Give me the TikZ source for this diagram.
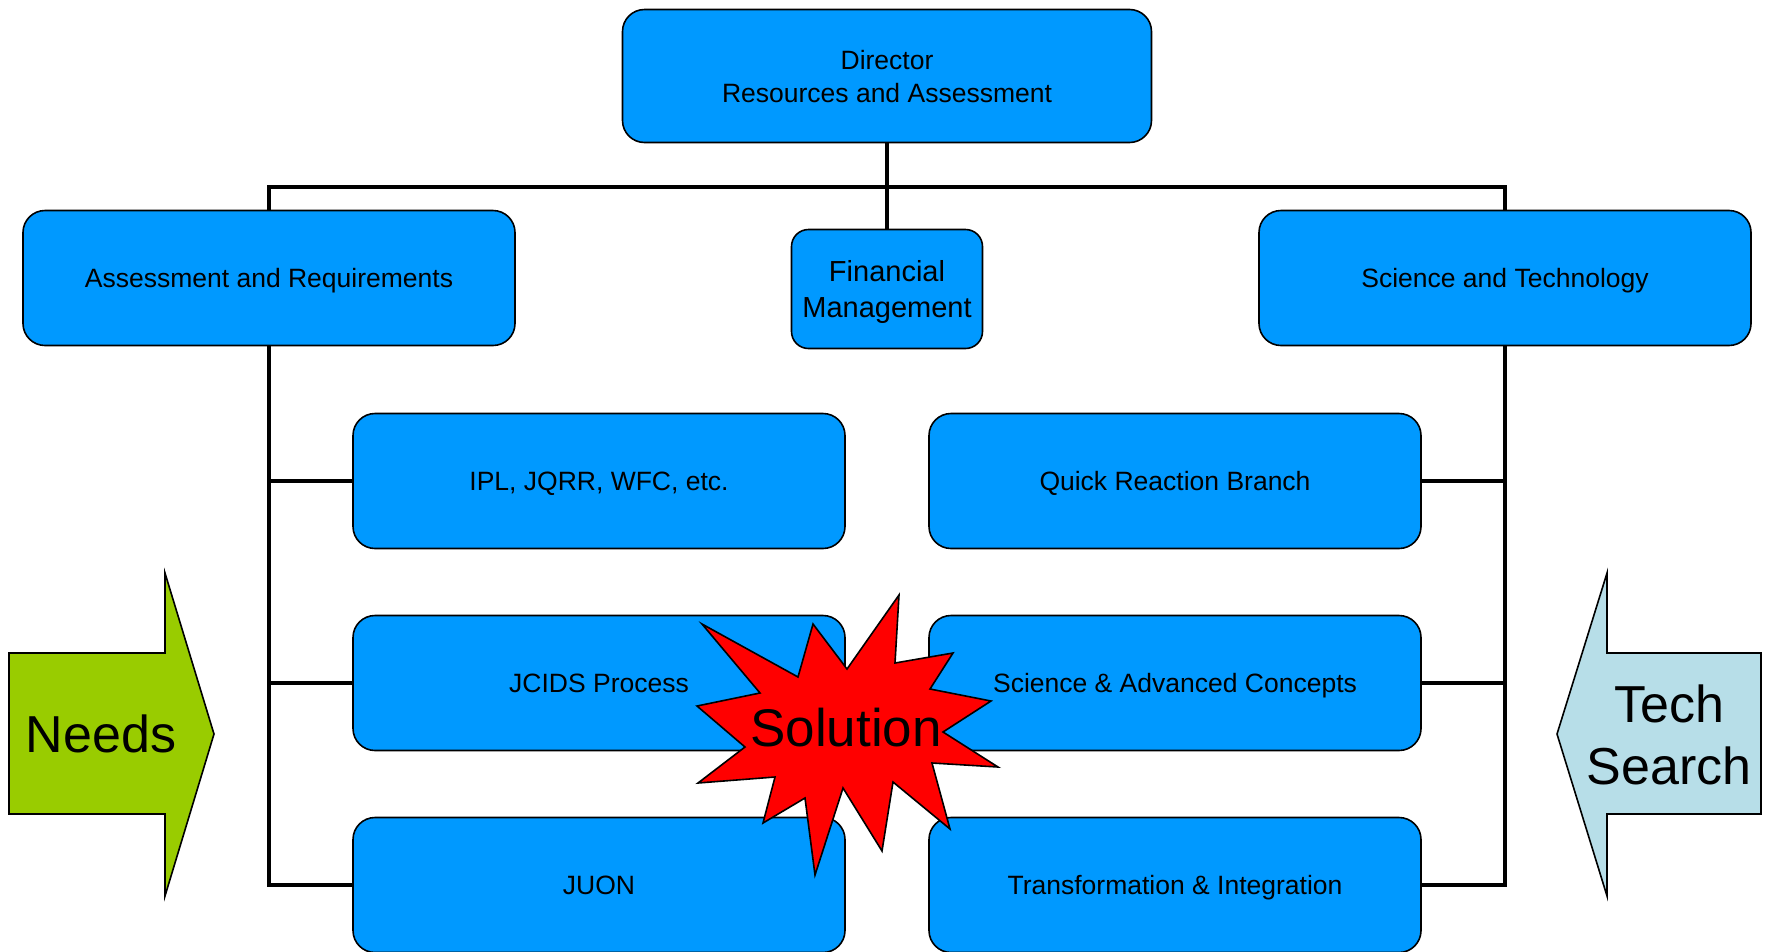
\documentclass[tikz,border=0pt]{standalone}
\usepackage{fontspec}
\setmainfont{Liberation Sans}
\usetikzlibrary{positioning, calc}
\definecolor{cbox}{HTML}{0099FF}
\definecolor{cneeds}{HTML}{99CC00}
\definecolor{ctech}{HTML}{B7DEE8}
\definecolor{cstar}{HTML}{FF0000}
\tikzset{
  every picture/.style={font=\fontsize{26.5}{33}\selectfont, line width=1.6pt},
  box/.style={draw=black, fill=cbox, rounded corners=22pt, align=center, inner sep=6pt, text depth=0pt, minimum width=492pt, minimum height=135pt},
  link/.style={draw=black, line width=4.5pt},
  big/.style={font=\fontsize{52}{62}\selectfont, align=center},
}

\begin{document}
\begin{tikzpicture}[x=1pt, y=-1pt]
  \useasboundingbox (0,0) rectangle (1768,951);
  % top level
  \node[box, minimum width=529pt, minimum height=133pt] (dir) at (887,76) {Director\\Resources and Assessment};
  \node[box] (ar) at (269,278) {Assessment and Requirements};
  \node[box, minimum width=191pt, minimum height=119pt, rounded corners=17pt, font=\fontsize{29}{36}\selectfont] (fm) at (887,289) {Financial\\Management};
  \node[box] (st) at (1505,278) {Science and Technology};
  % left branch
  \node[box] (ipl) at (599,481) {IPL, JQRR, WFC, etc.};
  \node[box] (jcids) at (599,683) {JCIDS Process};
  \node[box] (juon) at (599,885) {JUON};
  % right branch
  \node[box] (qrb) at (1175,481) {Quick Reaction Branch};
  \node[box] (sac) at (1175,683) {Science \& Advanced Concepts};
  \node[box] (ti) at (1175,885) {Transformation \& Integration};
  % connectors
  \coordinate (bus) at (887,187);
  \draw[link] (dir.south) -- (fm.north);
  \draw[link] (ar.north) |- (bus) -| (st.north);
  \foreach \n in {ipl, jcids, juon}
    \draw[link] (ar.south) |- (\n.west);
  \foreach \n in {qrb, sac, ti}
    \draw[link] (st.south) |- (\n.east);
  % big arrows
  \draw[fill=cneeds] (9,653) -- (165,653) -- (165,573) -- (214,734) -- (165,896) -- (165,814) -- (9,814) -- cycle;
  \node[big] (needs) at (101,734) {Needs};
  \draw[fill=ctech] (1761,653) -- (1607,653) -- (1607,573) -- (1557,734) -- (1607,896) -- (1607,814) -- (1761,814) -- cycle;
  \node[big] (tech) at (1669,735) {Tech\\Search};
  % solution burst
  \draw[fill=cstar] (899,595) -- (895,663) -- (953,653) -- (930,689) -- (991,701) -- (943,732)
    -- (998,767) -- (932,763) -- (950,829) -- (893,782) -- (882,851) -- (843,788)
    -- (815,875) -- (805,798) -- (763,823) -- (775,777) -- (698,783) -- (745,747)
    -- (697,706) -- (760,693) -- (702,624) -- (798,677) -- (813,624) -- (847,669) -- cycle;
  \node[font=\fontsize{53}{60}\selectfont] (sol) at (846,728) {Solution};
\end{tikzpicture}
\end{document}
